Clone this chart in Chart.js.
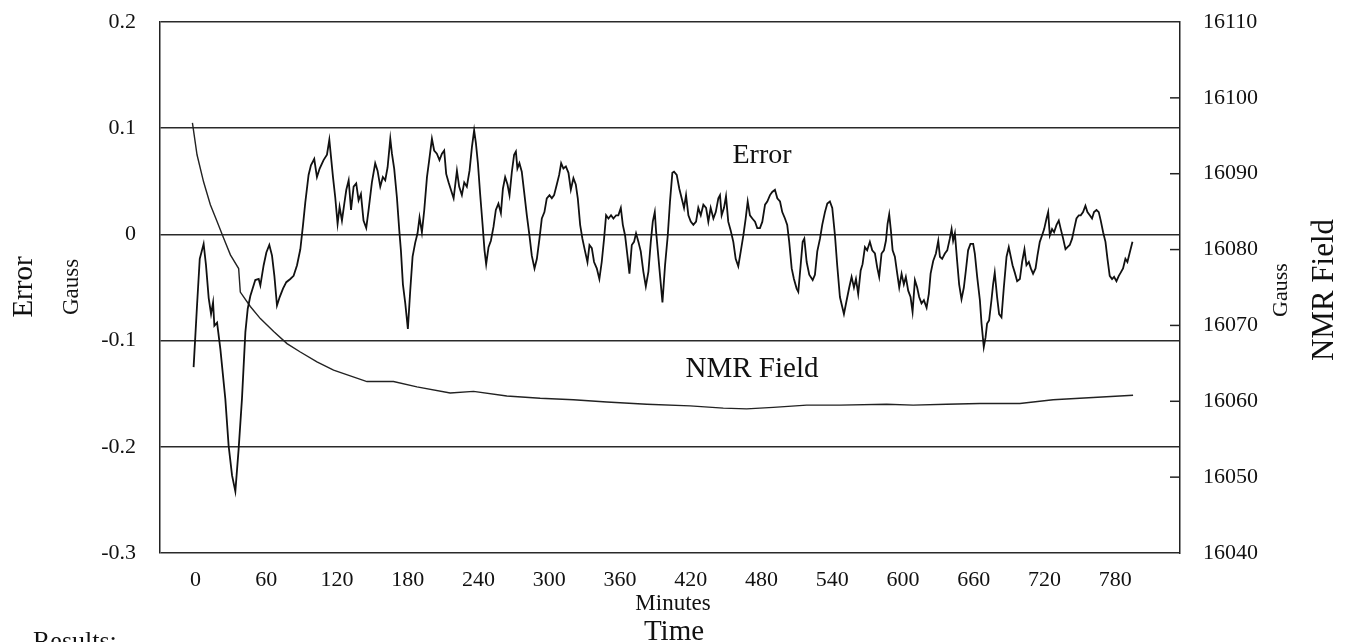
<!DOCTYPE html>
<html>
<head>
<meta charset="utf-8">
<script src="https://cdn.jsdelivr.net/npm/chart.js@4/dist/chart.umd.min.js"></script>
<style>
  body { margin: 0; background: #fff; }
  canvas { display: block; }
</style>
</head>
<body>
<canvas id="chart" width="1345" height="642"></canvas>
<script>
// tick labels
var minuteTicks = [0, 60, 120, 180, 240, 300, 360, 420, 480, 540, 600, 660, 720, 780];
var errorTicks = [-0.3, -0.2, -0.1, 0, 0.1, 0.2];
var fieldTicks = [16040, 16050, 16060, 16070, 16080, 16090, 16100, 16110];

// Error trace (minutes / gauss)
var errorMinutes = [
	-1.5, 1.4, 3.7, 7, 9, 11.3, 13.3, 15, 16.1, 18.4, 21.2, 25.4, 28.2, 31.1, 33.9, 36.7, 39.5, 42.4, 44.4, 46.6, 50.8, 53.7, 55.1, 57.9, 60.2, 62.7, 65, 67, 69.2, 71.5, 74.3, 77.1, 80.5, 83.3, 86.2, 89, 91.2, 93.2, 96, 98, 100.8, 103.1, 105.4, 108.7, 111.6, 113.6,
	116.7, 118.6, 120.6, 122.3, 124.3, 126.3, 128, 130, 132, 134.2, 136.4, 138.4, 140.4, 142.6, 144.9, 146.9, 149.7, 152.5, 154.5, 156.8, 159, 161, 163, 165.3, 166.7, 168.6, 170.9, 172.9, 174.3, 176, 178, 180.2, 182.2, 184.2, 186.4, 188.4, 190.1, 192.1, 194.1, 196.4, 198.3, 200.6, 202.5, 204.8, 207, 209.1, 211, 212.7, 214.7, 216.7, 219, 221.8, 223.7, 226, 228, 230.2, 232.5, 234.5, 236.4, 237.9, 239.6, 241.5, 243.5, 245.2, 246.6, 248.6, 250.6, 252.8, 254.8, 257, 259.1,
	260.8, 262.7, 264.7, 266.4, 268.4, 270.3, 271.8, 273.1, 274.8, 276.8, 278.8, 281.1, 283.3, 285.3, 287.6, 289.6, 291.8, 293.8, 296, 298, 300.3, 302.3, 304.2, 306.5, 308.5, 310.2, 312.1, 314.2, 316.4, 318.4, 320.6, 322.6, 324.3, 326.3, 328.2, 330.5, 332.5, 334.2, 336.2, 338.1, 340.4, 342.6, 344.6, 346.6, 348.3, 350.3, 352.5, 354.5, 356.8, 358.7, 360.8, 362.5, 364.4, 366.4, 368.1, 370.1, 372, 373.7, 375.7, 377.7, 379.9, 382, 384.2, 386.2, 387.9, 389.6, 390.7, 393.5, 396.1, 398.3, 400.6, 402.5, 404.5,
	405.9, 408.2, 410.4, 412.4, 414.4, 416.1, 418.1, 420.1, 422.3, 424.6, 426.5, 428.6, 430.8, 433.1, 435, 437, 439.3, 441.3, 443.5, 444.9, 446.3, 448.3, 450, 451.9, 453.9, 456.2, 458.2, 460.4, 462.5, 464.7, 466.7, 468.4, 470.3, 472.3, 474.6, 476.5, 478.8, 480.8, 483.1, 485, 487.3, 489.2, 491.5, 493.5, 495.8, 497.7, 500, 501.9, 503.6, 505.7, 507.6, 509.9, 511.3, 513.3, 515, 516.4, 518.4, 520.6, 523.5, 525.4, 527.4, 529.7, 531.6, 533.9, 535.9, 538.1, 540.1, 542.4, 544.3,
	546.6, 550, 552.3, 554.5, 556.5, 558.5, 560.2, 562.1, 564.2, 565.8, 567.8, 569.7, 572, 574, 576.3, 578.2, 579.9, 581.9, 583.9, 585.6, 587, 588.4, 589.8, 591.3, 593.2, 595.2, 596.9, 598.9, 600.8, 602.5, 604.5, 606.5, 608.2, 610.2, 612.1, 613.8, 615.8, 617.8, 620.1, 622, 623.5, 625.7, 628, 630, 631.4, 633.3, 635.6, 637.6, 639.8, 641.3, 642.6, 644.1, 646, 647.7, 649.7, 651.7, 653.4, 655.3, 657.3, 659.6, 661, 663, 665.3, 666.7, 668.6, 670.1, 671.4, 673.1, 675.1, 676.5, 677.9, 679.9, 681.6, 683.6, 685.6, 687.9,
	689.8, 693, 694.9, 696.9, 699.2, 701.1, 703.1, 704.8, 706.8, 708.5, 710.4, 712.5, 714.1, 716.1, 718, 719.8, 721.8, 723.2, 724.6, 726.5, 728.2, 730.3, 732.2, 733.9, 735.9, 737.9, 739.6, 741.5, 743.5, 745.2, 747.2, 749.2, 750.8, 752.8, 754.8, 756.5, 758.5, 760.4, 762.1, 764.2, 766.1, 767.8, 769.8, 771.8, 773.5, 775.4, 777.4, 779.1, 781.1, 783.1, 784.7, 786.7, 788.7, 790.4, 792.4, 794.7
];
var errorGauss = [
	-0.125, -0.067, -0.023, -0.009, -0.029, -0.060, -0.075, -0.064, -0.086, -0.083, -0.108, -0.155, -0.199, -0.227, -0.242, -0.202, -0.155, -0.092, -0.070, -0.058, -0.043, -0.042, -0.048, -0.029, -0.017, -0.010, -0.020, -0.039, -0.067, -0.059, -0.051, -0.045, -0.042, -0.039, -0.029, -0.014, 0.008, 0.030, 0.056, 0.065, 0.071, 0.054, 0.062, 0.070, 0.075, 0.089,
	0.054, 0.035, 0.010, 0.026, 0.013, 0.029, 0.042, 0.051, 0.023, 0.045, 0.048, 0.032, 0.038, 0.013, 0.006, 0.023, 0.049, 0.067, 0.060, 0.045, 0.054, 0.051, 0.063, 0.090, 0.076, 0.062, 0.035, 0.004, -0.015, -0.047, -0.065, -0.089, -0.053, -0.021, -0.008, 0.001, 0.016, 0.002, 0.023, 0.054, 0.070, 0.090, 0.079, 0.076, 0.070, 0.076, 0.079, 0.057, 0.049, 0.042, 0.034, 0.060, 0.045, 0.037, 0.049, 0.045, 0.060, 0.082, 0.098, 0.086, 0.067, 0.038, 0.010, -0.015, -0.028, -0.012, -0.006, 0.007, 0.023, 0.029, 0.020,
	0.043, 0.054, 0.047, 0.037, 0.059, 0.075, 0.078, 0.062, 0.067, 0.059, 0.040, 0.018, -0.001, -0.020, -0.032, -0.023, -0.004, 0.015, 0.021, 0.034, 0.037, 0.034, 0.037, 0.047, 0.056, 0.067, 0.062, 0.064, 0.058, 0.042, 0.053, 0.047, 0.034, 0.009, -0.004, -0.016, -0.026, -0.010, -0.013, -0.026, -0.032, -0.042, -0.026, -0.004, 0.018, 0.015, 0.018, 0.015, 0.018, 0.018, 0.025, 0.009, -0.001, -0.020, -0.037, -0.010, -0.007, 0.001, -0.007, -0.016, -0.035, -0.049, -0.035, -0.007, 0.012, 0.021, 0.003, -0.032, -0.064, -0.029, -0.001, 0.031, 0.058,
	0.059, 0.056, 0.043, 0.034, 0.025, 0.037, 0.018, 0.012, 0.009, 0.012, 0.025, 0.018, 0.028, 0.025, 0.012, 0.025, 0.015, 0.021, 0.034, 0.037, 0.018, 0.025, 0.036, 0.012, 0.004, -0.007, -0.023, -0.030, -0.016, -0.001, 0.015, 0.031, 0.018, 0.015, 0.012, 0.006, 0.006, 0.012, 0.028, 0.031, 0.037, 0.040, 0.042, 0.034, 0.031, 0.021, 0.015, 0.009, -0.007, -0.032, -0.042, -0.051, -0.054, -0.029, -0.007, -0.004, -0.026, -0.038, -0.043, -0.038, -0.016, -0.004, 0.009, 0.021, 0.029, 0.031, 0.025, -0.001, -0.029,
	-0.059, -0.075, -0.062, -0.050, -0.040, -0.050, -0.042, -0.056, -0.034, -0.028, -0.012, -0.015, -0.007, -0.015, -0.018, -0.031, -0.040, -0.018, -0.015, -0.006, 0.010, 0.019, 0.004, -0.015, -0.021, -0.037, -0.050, -0.037, -0.047, -0.040, -0.053, -0.059, -0.073, -0.043, -0.050, -0.059, -0.065, -0.062, -0.069, -0.056, -0.037, -0.025, -0.018, -0.006, -0.021, -0.023, -0.018, -0.015, -0.004, 0.005, -0.006, 0.001, -0.025, -0.047, -0.061, -0.050, -0.034, -0.015, -0.009, -0.009, -0.018, -0.040, -0.062, -0.084, -0.106, -0.097, -0.084, -0.081, -0.062, -0.047, -0.036, -0.059, -0.075, -0.078, -0.050, -0.021,
	-0.012, -0.029, -0.036, -0.044, -0.042, -0.026, -0.014, -0.029, -0.026, -0.032, -0.037, -0.032, -0.020, -0.007, -0.001, 0.005, 0.015, 0.021, -0.001, 0.005, 0.002, 0.009, 0.013, 0.005, -0.004, -0.014, -0.012, -0.010, -0.004, 0.005, 0.015, 0.018, 0.018, 0.021, 0.027, 0.021, 0.018, 0.015, 0.021, 0.023, 0.021, 0.013, 0.002, -0.007, -0.023, -0.039, -0.042, -0.040, -0.044, -0.039, -0.036, -0.032, -0.023, -0.026, -0.017, -0.007
];

// NMR field trace (minutes / gauss, right axis)
var fieldMinutes = [-2.5, 1.4, 7, 12.7, 18.4, 24, 29.7, 36.7, 38.1, 46.6, 55.1, 66.4, 77.7, 89, 103.1, 117.2, 145.5, 168, 187.9, 216.1, 235.9, 264.1, 292.4, 320.6, 348.9, 382.8, 419.5, 447.7, 467.5, 490.1, 518.4, 546.6, 586.2, 608.7, 637, 665.3, 699.2, 727.4, 761.3, 795.2];
var fieldGauss = [16096.7, 16092.5, 16088.9, 16085.9, 16083.7, 16081.5, 16079.3, 16077.5, 16074.4, 16072.5, 16070.9, 16069.2, 16067.6, 16066.5, 16065.2, 16064.1, 16062.6, 16062.6, 16061.9, 16061.1, 16061.3, 16060.7, 16060.4, 16060.2, 16059.9, 16059.6, 16059.4, 16059.1, 16059.0, 16059.2, 16059.5, 16059.5, 16059.6, 16059.5, 16059.6, 16059.7, 16059.7, 16060.2, 16060.5, 16060.8];

var serif = "'Liberation Serif', 'Times New Roman', serif";
var ink = '#111';

function toPoints(xs, ys) {
	return xs.map(function (x, i) {
		return { x: x, y: ys[i] };
	});
}

function fixedTicks(list) {
	return function (scale) {
		scale.ticks = list.map(function (v) { return { value: v }; });
	};
}

// vertical axes: fixed width, no extra room asked for half tick labels
function fitSide(width) {
	return function (scale) {
		scale.width = width;
		scale.paddingTop = 0;
		scale.paddingBottom = 0;
	};
}

// free text labels and the short inner ticks of the right axis
var annotations = {
	id: 'annotations',
	afterDraw: function (chart) {
		var ctx = chart.ctx;
		var area = chart.chartArea;
		var right = chart.scales.yField;

		ctx.save();
		ctx.strokeStyle = '#222';
		ctx.lineWidth = 1.5;
		fieldTicks.forEach(function (v) {
			if (v === 16040 || v === 16110) return;
			var y = right.getPixelForValue(v);
			ctx.beginPath();
			ctx.moveTo(area.right - 10, y);
			ctx.lineTo(area.right, y);
			ctx.stroke();
		});

		ctx.fillStyle = ink;
		ctx.textAlign = 'center';
		ctx.textBaseline = 'alphabetic';

		function vertical(text, x, y, size) {
			ctx.save();
			ctx.translate(x, y);
			ctx.rotate(-Math.PI / 2);
			ctx.font = size + 'px ' + serif;
			ctx.fillText(text, 0, 0);
			ctx.restore();
		}

		vertical('Error', 32, 287, 29);
		vertical('Gauss', 78, 287, 23);
		vertical('Gauss', 1287, 290, 22);
		vertical('NMR Field', 1333, 290, 31);

		ctx.font = '28px ' + serif;
		ctx.fillText('Error', 762, 163);
		ctx.font = '29px ' + serif;
		ctx.fillText('NMR Field', 752, 377);

		ctx.font = '23px ' + serif;
		ctx.fillText('Minutes', 673, 610);
		ctx.font = '29px ' + serif;
		ctx.fillText('Time', 674, 640);

		ctx.textAlign = 'left';
		ctx.textBaseline = 'top';
		ctx.font = '26px ' + serif;
		ctx.fillText('Results:', 33, 629);
		ctx.restore();
	}
};

var ctx = document.getElementById('chart').getContext('2d');

var chart = new Chart(ctx, {
	type: 'line',
	data: {
		datasets: [
			{
				label: 'Error',
				data: toPoints(errorMinutes, errorGauss),
				yAxisID: 'yErr',
				borderColor: '#111',
				borderWidth: 1.8,
				pointRadius: 0,
				tension: 0
			},
			{
				label: 'NMR Field',
				data: toPoints(fieldMinutes, fieldGauss),
				yAxisID: 'yField',
				borderColor: '#222',
				borderWidth: 1.4,
				pointRadius: 0,
				tension: 0
			}
		]
	},
	options: {
		responsive: false,
		animation: false,
		layout: { padding: { top: 22 } },
		plugins: {
			legend: { display: false },
			tooltip: { enabled: false }
		},
		scales: {
			x: {
				type: 'linear',
				min: -30,
				max: 835,
				afterBuildTicks: fixedTicks(minuteTicks),
				afterFit: function (s) { s.height = 89; },
				grid: { display: false, drawTicks: false },
				border: { display: false },
				ticks: {
					padding: 14,
					color: ink,
					font: { family: serif, size: 22 },
					maxRotation: 0,
					callback: function (v) { return String(v); }
				}
			},
			yErr: {
				type: 'linear',
				position: 'left',
				min: -0.3,
				max: 0.2,
				afterBuildTicks: fixedTicks(errorTicks),
				afterFit: fitSide(160),
				grid: { color: '#2a2a2a', lineWidth: 1.5, drawTicks: false },
				border: { color: '#222', width: 1.5 },
				ticks: {
					padding: 24,
					color: ink,
					font: { family: serif, size: 22 },
					callback: function (v) { return String(v); }
				}
			},
			yField: {
				type: 'linear',
				position: 'right',
				min: 16040,
				max: 16110,
				afterBuildTicks: fixedTicks(fieldTicks),
				afterFit: fitSide(165),
				grid: { drawOnChartArea: false, drawTicks: false },
				border: { color: '#222', width: 1.5 },
				ticks: {
					padding: 23,
					color: ink,
					font: { family: serif, size: 22 },
					callback: function (v) { return String(v); }
				}
			}
		}
	},
	plugins: [annotations]
});
</script>
</body>
</html>
